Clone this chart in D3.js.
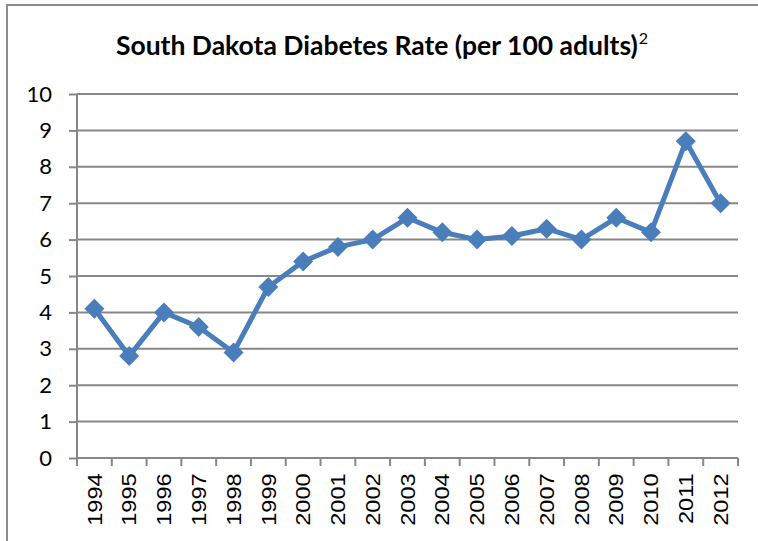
<!DOCTYPE html>
<html><head><meta charset="utf-8">
<script src="https://cdn.jsdelivr.net/npm/d3@7"></script>
<style>html,body{margin:0;padding:0;background:#fff;}</style>
</head><body>
<svg id="chart" width="758" height="541"></svg>
<script>
const years = ["1994","1995","1996","1997","1998","1999","2000","2001","2002","2003","2004","2005","2006","2007","2008","2009","2010","2011","2012"];
const rates = [4.1,2.8,4.0,3.6,2.9,4.7,5.4,5.8,6.0,6.6,6.2,6.0,6.1,6.3,6.0,6.6,6.2,8.7,7.0];
const yTicks = [0,1,2,3,4,5,6,7,8,9,10];
const titleText = "South Dakota Diabetes Rate (per 100 adults)";
const titleSup = "2";

(function(){
const svg = d3.select("#chart");
const pL = 77, pR = 738, pT = 94, pB = 458;
const x = d3.scaleBand().domain(years).range([pL, pR]);
const y = d3.scaleLinear().domain([0, 10]).range([pB, pT]);
const grid = "#878787";

// outer frame (top and left edges)
svg.append("path").attr("d", "M7,541 V5 H758").attr("fill","none").attr("stroke","#8c8c8c").attr("stroke-width",2);

// title
const t = svg.append("text").attr("x", 382).attr("y", 55).attr("text-anchor","middle")
  .attr("font-family","Lato, 'Open Sans', sans-serif").attr("font-size",26.5).attr("fill","#000");
t.append("tspan").attr("font-weight","bold").text(titleText);
t.append("tspan").attr("font-size",16).attr("dy",-11).attr("dx",1).text(titleSup);

// gridlines
svg.append("g").selectAll("line").data(yTicks.filter(d=>d>0)).join("line")
  .attr("x1", pL).attr("x2", pR).attr("y1", d=>y(d)).attr("y2", d=>y(d))
  .attr("stroke", grid).attr("stroke-width", 2);

// y axis
const yAxis = svg.append("g").attr("transform",`translate(${pL},0)`)
  .call(d3.axisLeft(y).tickValues(yTicks).tickSize(8).tickPadding(17).tickFormat(d3.format("d")));
yAxis.select(".domain").attr("stroke", grid).attr("stroke-width",2).attr("d", `M0,${pT}V${pB}`);
yAxis.selectAll(".tick line").attr("stroke", grid).attr("stroke-width",2);
yAxis.selectAll(".tick text").attr("font-family","Lato, 'Open Sans', sans-serif").attr("font-size",22).attr("fill","#000");

// x axis
const xAxis = svg.append("g").attr("transform",`translate(0,${pB})`)
  .call(d3.axisBottom(x).tickSize(0).tickPadding(0));
xAxis.select(".domain").attr("stroke", grid).attr("stroke-width",2).attr("d", `M${pL},0H${pR}`);
const edges = years.map(d=>x(d)).concat([pR]);
xAxis.selectAll(".edge").data(edges).join("line").attr("class","edge")
  .attr("x1", d=>d).attr("x2", d=>d).attr("y1",0).attr("y2",8)
  .attr("stroke", grid).attr("stroke-width",2);
xAxis.selectAll(".tick text")
  .attr("font-family","'Liberation Sans', Arial, sans-serif").attr("font-size",20).attr("fill","#000")
  .attr("transform", "rotate(-90) scale(1.18,1)").attr("text-anchor","end").attr("x",-13).attr("y",0).attr("dy","0.36em");

// line
const cx = d => x(d) + x.bandwidth()/2;
const line = d3.line().x((d,i)=>cx(years[i])).y(d=>y(d));
svg.append("path").datum(rates).attr("d", line).attr("fill","none")
  .attr("stroke","#4a7ebb").attr("stroke-width",5).attr("stroke-linejoin","round");

// markers
svg.append("g").selectAll("path").data(rates).join("path")
  .attr("transform",(d,i)=>`translate(${cx(years[i])},${y(d)})`)
  .attr("d","M0,-10L10,0L0,10L-10,0Z").attr("fill","#4a7ebb");
})();
</script>
</body></html>
